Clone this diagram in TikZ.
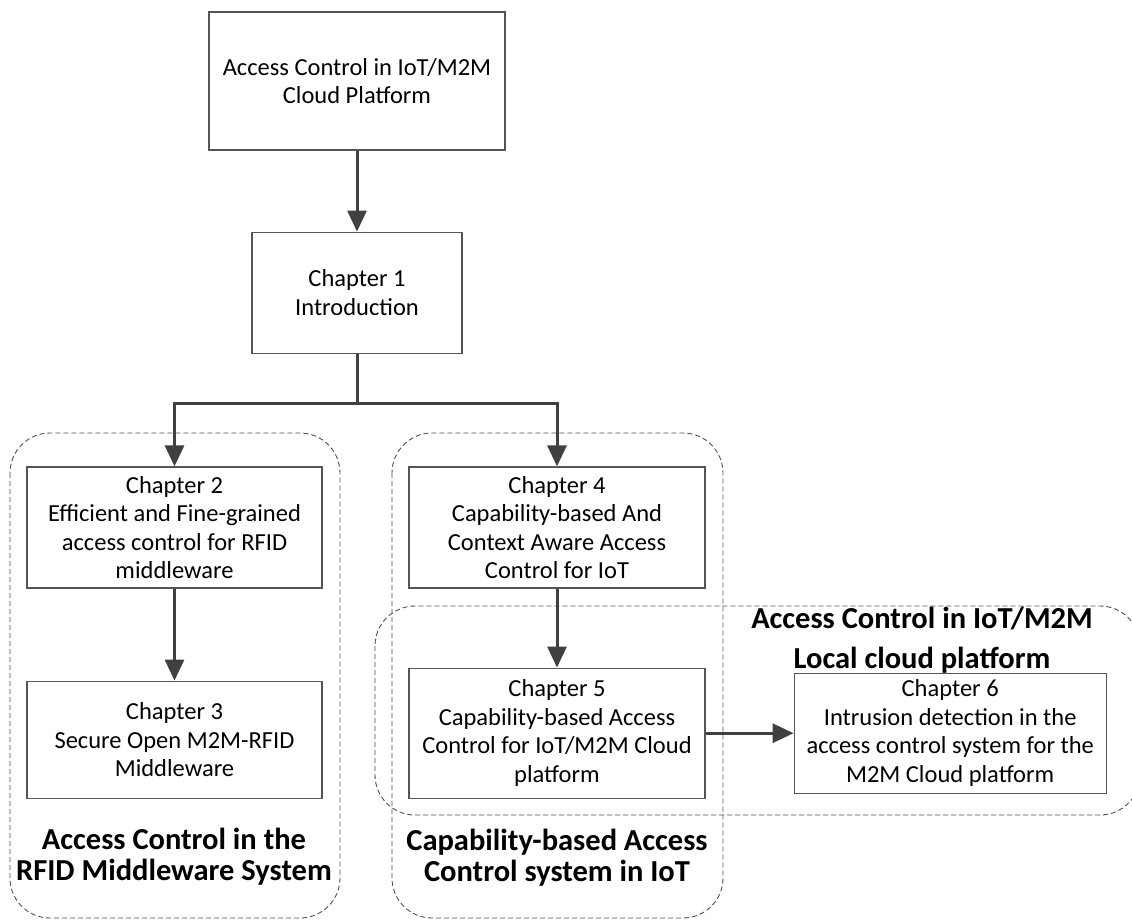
\documentclass[tikz,border=0pt]{standalone}
\usepackage{fontspec}
\setmainfont{Carlito}
\usepackage{xcolor}
\usetikzlibrary{
    arrows.meta,      % For Triangle arrow tips
    positioning       % For below=of, right=of
}
\definecolor{boxgray}{HTML}{555555}
\definecolor{arrowgray}{HTML}{404040}
\definecolor{dashgray}{HTML}{505050}
\tikzset{
  % Style for chapter boxes
  chap/.style={
    rectangle, draw=boxgray, line width=1.2pt, fill=white,
    align=center, inner sep=0pt, font=\fontsize{24.5}{28.5}\selectfont
  },
  % Style for dashed group frames
  grp/.style={
    draw=dashgray, line width=0.9pt, rounded corners=40pt,
    dash pattern=on 5pt off 3pt
  },
  % Style for group titles
  grptitle/.style={
    align=center, inner sep=0pt, font=\bfseries\fontsize{30.5}{31}\selectfont
  },
  % Style for arrows
  arrow/.style={
    -{Triangle[length=21pt,width=19pt]}, line width=3pt, draw=arrowgray
  }
}

\begin{document}
\begin{tikzpicture}[x=1pt, y=-1pt]
    \clip (0,0) rectangle (1132,920);

    % dashed group frames
    \draw[grp] (10,433) rectangle (340,918);
    \draw[grp] (392,433) rectangle (723,918);
    \draw[grp] (375,606) rectangle (1140,815);

    \node[grptitle] (rfidtitle) at (174,857) {Access Control in the\\RFID Middleware System};
    \node[grptitle] (captitle) at (557,858) {Capability-based Access\\Control system in IoT};
    \node[grptitle, font=\bfseries\fontsize{30.5}{40}\selectfont] (localtitle) at (922,640) {Access Control in IoT/M2M\\Local cloud platform};

    \node[chap, minimum width=296pt, minimum height=138pt] (cloud) at (357,81) {Access Control in IoT/M2M\\Cloud Platform};
    \node[chap, minimum width=210pt, minimum height=121pt, below=81pt of cloud] (ch1) {Chapter 1\\Introduction};
    \coordinate[below=50pt of ch1] (split);

    \node[chap, minimum width=295pt, minimum height=121pt] (ch2) at (174.5,527.5) {Chapter 2\\Efficient and Fine-grained\\access control for RFID\\middleware};
    \node[chap, minimum width=295pt, minimum height=117pt, below=92pt of ch2] (ch3) {Chapter 3\\Secure Open M2M-RFID\\Middleware};

    \node[chap, minimum width=296pt, minimum height=121pt] (ch4) at (557,527.5) {Chapter 4\\Capability-based And\\Context Aware Access\\Control for IoT};
    \node[chap, minimum width=296pt, minimum height=130pt, below=79pt of ch4] (ch5) {Chapter 5\\Capability-based Access\\Control for IoT/M2M Cloud\\platform};
    \node[chap, minimum width=312pt, minimum height=120pt, right=88pt of ch5] (ch6) {Chapter 6\\Intrusion detection in the\\access control system for the\\M2M Cloud platform};

    \draw[arrow] (cloud) -- (ch1);
    \draw[arrow] (ch1) -- (split) -| (ch2);
    \draw[arrow] (split) -| (ch4);
    \draw[arrow] (ch2) -- (ch3);
    \draw[arrow] (ch4) -- (ch5);
    \draw[arrow] (ch5) -- (ch6);

\end{tikzpicture}
\end{document}
